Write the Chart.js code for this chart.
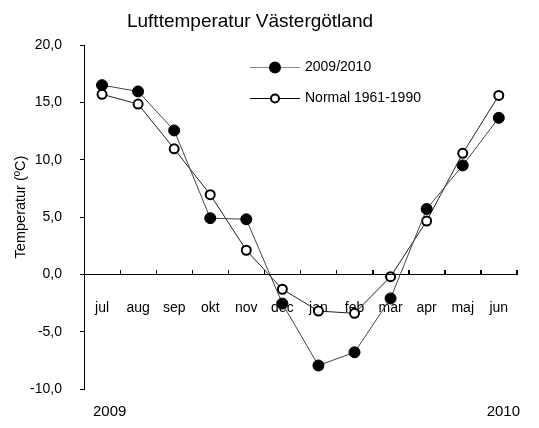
<!DOCTYPE html>
<html>
<head>
<meta charset="utf-8">
<script src="https://cdn.jsdelivr.net/npm/chart.js@4"></script>
<style>
  html, body { margin: 0; padding: 0; background: #fff; }
</style>
</head>
<body>
<canvas id="temp" width="539" height="428"></canvas>
<script>
const months = ['jul', 'aug', 'sep', 'okt', 'nov', 'dec', 'jan', 'feb', 'mar', 'apr', 'maj', 'jun'];
const season = [16.5, 15.95, 12.55, 4.9, 4.8, -2.55, -7.95, -6.8, -2.1, 5.7, 9.5, 13.65];
const normal = [15.7, 14.85, 10.95, 6.95, 2.1, -1.3, -3.2, -3.4, -0.2, 4.65, 10.55, 15.6];
const yearLabels = ['2009', '2010'];

const FONT = "'Liberation Sans', Arial, sans-serif";

// title, legend, y title, year labels and the zero line with month ticks
const extras = {
    id: 'extras',
    afterDraw(chart) {
        const ctx = chart.ctx;
        const area = chart.chartArea;
        const x = chart.scales.x;
        ctx.save();

        const y0 = Math.round(chart.scales.y.getPixelForValue(0));
        const step = x.getPixelForValue(1) - x.getPixelForValue(0);
        ctx.fillStyle = '#000';
        ctx.fillRect(area.left, y0, area.right - area.left + 1, 1);
        for (let i = 0; i <= months.length; i++) {
            const px = Math.round(x.getPixelForValue(i) - step / 2);
            ctx.fillRect(px, y0 - 4, 1, 5);
        }

        ctx.textBaseline = 'middle';
        ctx.font = '19px ' + FONT;
        ctx.textAlign = 'center';
        ctx.fillText('Lufttemperatur Västergötland', 250, 22);

        ctx.font = '14.5px ' + FONT;
        ctx.save();
        ctx.translate(21, 207);
        ctx.rotate(-Math.PI / 2);
        ctx.fillText('Temperatur (ºC)', 0, 0);
        ctx.restore();

        ctx.font = '15px ' + FONT;
        ctx.textAlign = 'left';
        ctx.fillText(yearLabels[0], 93, 412);
        ctx.textAlign = 'right';
        ctx.fillText(yearLabels[1], 520, 412);

        // legend
        const items = [
            {label: '2009/2010', y: 67, line: '#888', fill: '#000', r: 5},
            {label: 'Normal 1961-1990', y: 98, line: '#000', fill: '#fff', r: 4}
        ];
        items.forEach(it => {
            ctx.strokeStyle = it.line;
            ctx.lineWidth = 1;
            ctx.beginPath();
            ctx.moveTo(250, it.y + 0.5);
            ctx.lineTo(300, it.y + 0.5);
            ctx.stroke();
            ctx.beginPath();
            ctx.arc(275, it.y + 0.5, it.r, 0, Math.PI * 2);
            ctx.fillStyle = it.fill;
            ctx.fill();
            ctx.strokeStyle = '#000';
            ctx.lineWidth = 2;
            ctx.stroke();
            ctx.fillStyle = '#000';
            ctx.font = '14px ' + FONT;
            ctx.textAlign = 'left';
            ctx.fillText(it.label, 305, it.y);
        });
        ctx.restore();
    }
};

new Chart(document.getElementById('temp'), {
    type: 'line',
    data: {
        labels: months,
        datasets: [{
            label: '2009/2010',
            data: season,
            borderColor: '#444',
            borderWidth: 1,
            pointRadius: 5.5,
            pointBackgroundColor: '#000',
            pointBorderColor: '#000',
            pointBorderWidth: 1,
            tension: 0
        }, {
            label: 'Normal 1961-1990',
            data: normal,
            borderColor: '#222',
            borderWidth: 1,
            pointRadius: 4.5,
            pointBackgroundColor: '#fff',
            pointBorderColor: '#000',
            pointBorderWidth: 2,
            tension: 0
        }]
    },
    plugins: [extras],
    options: {
        responsive: false,
        animation: false,
        layout: {
            padding: {top: 45, right: 21, bottom: 39, left: 0}
        },
        plugins: {
            legend: {display: false},
            tooltip: {enabled: false}
        },
        scales: {
            x: {
                type: 'category',
                position: {y: 0},
                offset: true,
                grid: {
                    offset: true,
                    drawOnChartArea: false,
                    tickLength: -5,
                    color: '#000'
                },
                border: {color: '#000', width: 1},
                ticks: {
                    color: '#000',
                    padding: 30,
                    maxRotation: 0,
                    autoSkip: false,
                    font: {family: FONT, size: 14}
                }
            },
            y: {
                min: -10,
                max: 20,
                afterFit(scale) { scale.width = 84; },
                grid: {
                    drawOnChartArea: false,
                    tickLength: 4,
                    color: '#000'
                },
                border: {color: '#000', width: 1},
                ticks: {
                    stepSize: 5,
                    color: '#000',
                    padding: 18,
                    font: {family: FONT, size: 14},
                    callback: v => v.toFixed(1).replace('.', ',')
                }
            }
        }
    }
});
</script>
</body>
</html>
